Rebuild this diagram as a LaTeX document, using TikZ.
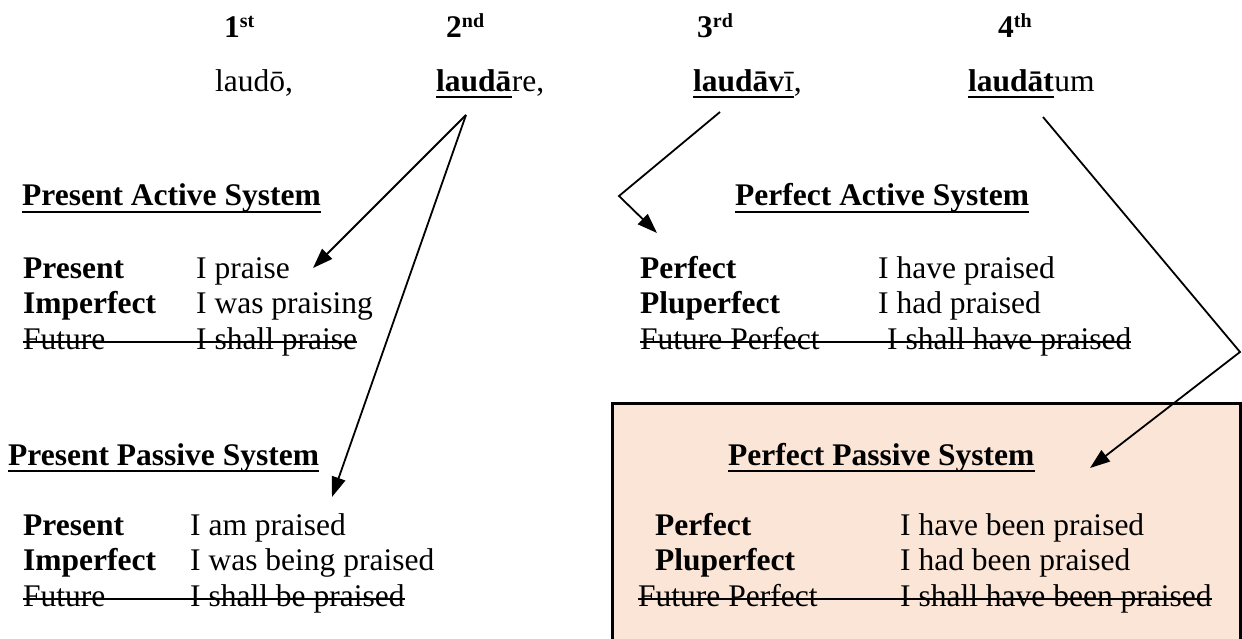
\documentclass[tikz,border=0pt]{standalone}
\usepackage{fontspec}
\setmainfont{Liberation Serif}
\usetikzlibrary{arrows.meta}
\definecolor{peach}{HTML}{FBE5D6}
\begin{document}
\begin{tikzpicture}[x=1pt,y=-1pt,
  txt/.style={inner sep=0pt, anchor=base west, font=\fontsize{31.5}{36}\selectfont},
  lbl/.style={inner sep=0pt, anchor=base west, font=\fontsize{31.5}{36}\selectfont\bfseries},
  arr/.style={line width=1.8pt, line join=miter, -{Triangle[length=20pt,width=14pt]}},
  ul/.style={line width=2.6pt},
  st/.style={line width=1.8pt}]
\useasboundingbox (0,0) rectangle (1242,639);
% box
\fill[peach] (612,403) rectangle (1240,645);
\draw[line width=3pt] (612,650) -- (612,403) -- (1240,403) -- (1240,650);
% header
\node[lbl] (h1) at (224,38) {1\raisebox{10pt}{\fontsize{20}{20}\selectfont st}};
\node[lbl] (h2) at (446,38) {2\raisebox{10pt}{\fontsize{20}{20}\selectfont nd}};
\node[lbl] (h3) at (697,38) {3\raisebox{10pt}{\fontsize{20}{20}\selectfont rd}};
\node[lbl] (h4) at (998,38) {4\raisebox{10pt}{\fontsize{20}{20}\selectfont th}};
% principal parts
\node[txt] (w1) at (215,92) {laudō,};
\node[lbl] (w2b) at (436,92) {laudā};
\node[txt] (w2r) at (w2b.base east) {re,};
\draw[ul] ([yshift=-5pt]w2b.base west) -- ([yshift=-5pt]w2b.base east);
\node[lbl] (w3b) at (693,92) {laudāv};
\node[txt] (w3i) at (w3b.base east) {ī};
\node[txt] (w3c) at (w3i.base east) {,};
\draw[ul] ([yshift=-5pt]w3b.base west) -- ([yshift=-5pt]w3i.base east);
\node[lbl] (w4b) at (968,92) {laudāt};
\node[txt] (w4r) at (w4b.base east) {um};
\draw[ul] ([yshift=-5pt]w4b.base west) -- ([yshift=-5pt]w4b.base east);
% Present Active System
\node[lbl] (pa) at (22,206) {Present Active System};
\draw[ul] ([yshift=-6pt]pa.base west) -- ([yshift=-6pt]pa.base east);
\node[lbl] (pa1) at (23,278) {Present};
\node[txt] (pa1v) at (196,278) {I praise};
\node[lbl] (pa2) at (23,313.5) {Imperfect};
\node[txt] (pa2v) at (196,313.5) {I was praising};
\node[txt] (pa3) at (23,349) {Future};
\node[txt] (pa3v) at (196,349) {I shall praise};
\draw[st] ([yshift=7pt]pa3.base west) -- ([yshift=7pt]pa3v.base east);
% Perfect Active System
\node[lbl] (fa) at (735,206) {Perfect Active System};
\draw[ul] ([yshift=-6pt]fa.base west) -- ([yshift=-6pt]fa.base east);
\node[lbl] (fa1) at (640,278) {Perfect};
\node[txt] (fa1v) at (878,278) {I have praised};
\node[lbl] (fa2) at (640,313.5) {Pluperfect};
\node[txt] (fa2v) at (878,313.5) {I had praised};
\node[txt] (fa3) at (640,349) {Future Perfect};
\node[txt] (fa3v) at (887,349) {I shall have praised};
\draw[st] ([yshift=7pt]fa3.base west) -- ([yshift=7pt]fa3v.base east);
% Present Passive System
\node[lbl] (pp) at (8,465) {Present Passive System};
\draw[ul] ([yshift=-6pt]pp.base west) -- ([yshift=-6pt]pp.base east);
\node[lbl] (pp1) at (23,535) {Present};
\node[txt] (pp1v) at (190,535) {I am praised};
\node[lbl] (pp2) at (23,570.5) {Imperfect};
\node[txt] (pp2v) at (190,570.5) {I was being praised};
\node[txt] (pp3) at (23,606) {Future};
\node[txt] (pp3v) at (190,606) {I shall be praised};
\draw[st] ([yshift=7pt]pp3.base west) -- ([yshift=7pt]pp3v.base east);
% Perfect Passive System
\node[lbl] (fp) at (728,465) {Perfect Passive System};
\draw[ul] ([yshift=-6pt]fp.base west) -- ([yshift=-6pt]fp.base east);
\node[lbl] (fp1) at (655,535) {Perfect};
\node[txt] (fp1v) at (900,535) {I have been praised};
\node[lbl] (fp2) at (655,570.5) {Pluperfect};
\node[txt] (fp2v) at (900,570.5) {I had been praised};
\node[txt] (fp3) at (638,606) {Future Perfect};
\node[txt] (fp3v) at (900,606) {I shall have been praised};
\draw[st] ([yshift=7pt]fp3.base west) -- ([yshift=7pt]fp3v.base east);
% arrows
\coordinate (a2) at (466,115);
\coordinate (t1) at (313,268);
\coordinate (t2) at (332,497);
\draw[arr] (a2) -- (t1);
\draw[arr] (a2) -- (t2);
\coordinate (a3) at (720,112);
\coordinate (b3) at (619,196);
\coordinate (t3) at (657,233);
\draw[arr] (a3) -- (b3) -- (t3);
\coordinate (a4) at (1043,117);
\coordinate (b4) at (1240,352);
\coordinate (t4) at (1090,468);
\draw[arr] (a4) -- (b4) -- (t4);
\end{tikzpicture}
\end{document}
